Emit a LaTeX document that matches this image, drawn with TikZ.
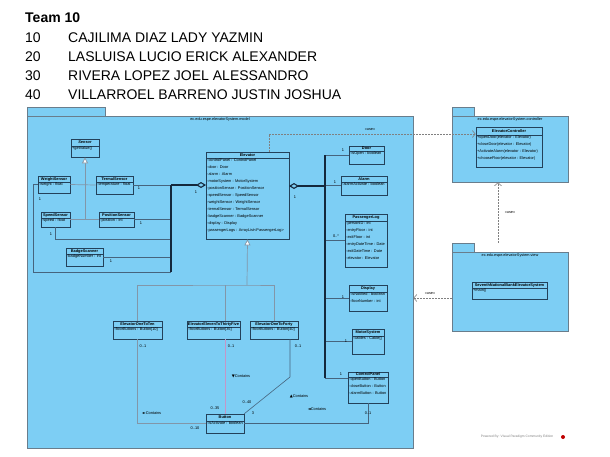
\documentclass[tikz,border=0pt]{standalone}
\usepackage{fontspec}
\setmainfont{Liberation Sans}
\newfontfamily\symfont{DejaVu Sans}
\usetikzlibrary{arrows.meta,fit,calc}

\definecolor{pkgfill}{RGB}{125,206,244}
\definecolor{pkgline}{RGB}{105,125,140}
\definecolor{clsline}{RGB}{35,65,90}
\definecolor{genline}{RGB}{130,150,168}
\definecolor{assocline}{RGB}{70,100,125}
\definecolor{pinkline}{RGB}{196,150,200}
\definecolor{darkline}{RGB}{20,40,60}

\newcommand\clsfont{\fontsize{3.9}{7}\selectfont}
\newcommand\pkgfont{\fontsize{3.8}{5}\selectfont}

\tikzset{
  pkg/.style={draw=pkgline, fill=pkgfill, line width=0.8pt, inner sep=0pt},
  cls/.style={draw=clsline, fill=pkgfill, line width=0.7pt, inner sep=0pt},
  clstitle/.style={font=\clsfont\bfseries, inner sep=0pt},
  clsattr/.style={font=\clsfont, align=left, inner xsep=1pt, inner ysep=0.8pt, anchor=north west},
  mult/.style={font=\clsfont, inner sep=0pt},
  team/.style={font=\fontsize{14}{16}\selectfont, anchor=base west, inner sep=0pt},
  bus/.style={draw=darkline, line width=1.1pt},
  assoc/.style={draw=assocline, line width=0.6pt},
  genl/.style={draw=genline, line width=0.7pt},
  gen/.style={genl, {Triangle[length=6pt,width=6pt,fill=white]}-},
  comp/.style={draw=darkline, line width=1.1pt, {Diamond[length=10pt,width=6pt,fill=pkgfill]}-},
  dep/.style={draw=gray, line width=0.6pt, dash pattern=on 1.5pt off 1.5pt, -{Straight Barb[length=3pt,width=7pt]}},
  stereo/.style={font=\pkgfont, inner sep=0pt},
}

\newcommand\umlclass[8]{%
  \node[cls, fit={(#2,#3) (#4,#5)}] (#1) {};
  \draw[clsline, line width=0.7pt] (#2,#6) -- (#4,#6);
  \node[clstitle] (#1-t) at ($(#2,#3)!0.5!(#4,#6)$) {#7};
  \node[clsattr] (#1-a) at (#2,#6) {#8};
}

\newcommand\umlpkg[7]{%
  \node[pkg, fit={(#2,#3) (#6,#3+9)}] (#1-tab) {};
  \node[pkg, fit={(#2,#3+9) (#4,#5)}] (#1) {};
  \node[font=\pkgfont, inner sep=0pt] (#1-name) at ($(#1.north)+(0,4)$) {#7};
}

\begin{document}
\begin{tikzpicture}[x=1pt,y=-1pt]
  \useasboundingbox (0,0) rectangle (610,456);

  \node[team, font=\fontsize{14}{16}\selectfont\bfseries] (team) at (25,22) {Team 10};
  \node[team] (n1) at (25,42) {10};
  \node[team] (m1) at (68,42) {CAJILIMA DIAZ LADY YAZMIN};
  \node[team] (n2) at (25,61) {20};
  \node[team] (m2) at (68,61) {LASLUISA LUCIO ERICK ALEXANDER};
  \node[team] (n3) at (25,80) {30};
  \node[team] (m3) at (68,80) {RIVERA LOPEZ JOEL ALESSANDRO};
  \node[team] (n4) at (25,99) {40};
  \node[team] (m4) at (68,99) {VILLARROEL BARRENO JUSTIN JOSHUA};

  \umlpkg{modelpkg}{27}{107}{413}{448}{105}{ec.edu.espe.elevatorSystem.model}
  \umlpkg{ctrlpkg}{452}{107}{568}{182}{474}{ec.edu.espe.elevatorSystem.controller}
  \umlpkg{viewpkg}{452}{243}{568}{331}{474}{ec.edu.espe.elevatorSystem.view}

  \umlclass{sensor}{71}{139}{99}{157}{146}{\itshape Sensor}{+getValue()}
  \umlclass{weight}{38}{176}{70}{193}{182}{WeightSensor}{-weight : float}
  \umlclass{termal}{96}{176}{133}{194}{182}{TermalSensor}{-temperature : float}
  \umlclass{speed}{41}{212}{70}{227}{218}{SpeedSensor}{-speed : float}
  \umlclass{position}{99}{212}{134}{227}{218}{PositionSensor}{-position : int}
  \umlclass{badge}{66}{248}{103}{266}{254}{BadgeScanner}{-badgeNumber : int}
  \umlclass{elevator}{206}{152}{289}{239}{158}{Elevator}{-controlPanel : ControlPanel\\-door : Door\\-alarm : Alarm\\-motorSystem : MotorSystem\\-positionSensor : PositionSensor\\-speedSensor : SpeedSensor\\-weightSensor : WeightSensor\\-termalSensor : TermalSensor\\-badgeScanner : BadgeScanner\\-display : Display\\-passengerLogs : ArrayList<PassengerLog>}
  \umlclass{door}{349}{146}{384}{164}{151}{Door}{-isOpen : boolean}
  \umlclass{alarm}{341}{176}{387}{195}{182}{Alarm}{-alarmActivate : boolean}
  \umlclass{plog}{345}{214}{387}{267}{221}{PassengerLog}{-personID : int\\-entryFloor : int\\-exitFloor : int\\-entryDateTime : Date\\-exitDateTime : Date\\-elevator : Elevator}
  \umlclass{display}{349}{285}{387}{311}{292}{Display}{-isNotified : boolean\\-floorNumber : int}
  \umlclass{motor}{352}{329}{384}{354}{336}{MotorSystem}{-cables : Cable[]}
  \umlclass{cpanel}{348}{372}{388}{403}{377}{ControlPanel}{-openButton : Button\\-closeButton : Button\\-alarmButton : Button}
  \umlclass{one10}{113}{321}{162}{339}{327}{ElevatorOneToTen}{-floorButtons : Button[10]}
  \umlclass{one35}{187}{321}{240}{339}{327}{ElevatorElevenToThirtyFive}{-floorButtons : Button[35]}
  \umlclass{one40}{250}{321}{298}{339}{327}{ElevatorOneToForty}{-floorButtons : Button[40]}
  \umlclass{button}{206}{414}{244}{433}{421}{Button}{-isActivate : boolean}
  \umlclass{ctrl}{476}{127}{542}{167}{135}{ElevatorController}{+openDoor(elevator : Elevator)\\+closeDoor(elevator : Elevator)\\+ActivateAlarm(elevator : Elevator)\\+chooseFloor(elevator : Elevator)}
  \umlclass{seventh}{472}{282}{547}{299}{288}{SeventhNationalBankElevatorSystem}{+main()}

  \coordinate (elevL) at (206,185);
  \coordinate (lbusT) at (171,185);
  \coordinate (lbusS) at (171,239);
  \coordinate (lbusB) at (171,272);
  \coordinate (elevR) at (289,186);
  \coordinate (rbusT) at (325,155);
  \coordinate (rbusB) at (325,378);
  \coordinate (genJ) at (247,285);
  \coordinate (c40) at (290,377);
  \coordinate (dep1) at (269,134);
  \coordinate (dep2) at (498,212);
  \coordinate (dep3) at (432,298);

  \draw[gen] (sensor.south) -- (sensor.south |- speed.east);
  \draw[genl] (weight.east) -- (termal.west);
  \draw[genl] (speed.east) -- (position.west);

  \draw[assoc] (termal.east) -- (termal.east -| lbusT);
  \draw[assoc] (position.east) -- (position.east -| lbusT);
  \draw[assoc] (badge.east) -- (badge.east -| lbusT);
  \draw[assoc] (speed.south) |- (lbusS);
  \draw[assoc] (weight.west) -- ++(-4,0) |- (lbusB);
  \draw[bus] (lbusT) -- (lbusB);
  \draw[comp] (elevL) -- (lbusT);

  \draw[assoc] (door.west) -- (door.west -| rbusT);
  \draw[assoc] (alarm.west) -- (alarm.west -| rbusT);
  \draw[assoc] (plog.west) -- (plog.west -| rbusT);
  \draw[assoc] (display.west) -- (display.west -| rbusT);
  \draw[assoc] (motor.west) -- (motor.west -| rbusT);
  \draw[assoc] (rbusB) -- (rbusB -| cpanel.west);
  \draw[bus] (rbusT) -- (rbusB);
  \draw[comp] (elevR) -- (elevR -| rbusT);

  \draw[gen] (elevator.south) -- (genJ);
  \draw[genl] (one10.north) |- (genJ) -| (one40.north);
  \draw[genl] (genJ -| button.north) -- (button.north |- one35.north);

  \draw[genl] (one10.south) |- (button.west);
  \draw[draw=pinkline, line width=0.6pt] (button.north |- one35.south) -- (button.north);
  \draw[assoc] (one40.south -| c40) -- (c40) -- (button.north east);
  \draw[assoc] (cpanel.south) |- (button.east);

  \draw[dep] (elevator.north -| dep1) |- (ctrl.west |- dep1);
  \draw[dep] (viewpkg-tab.north -| dep2) -- (ctrlpkg.south -| dep2);
  \draw[dep] (viewpkg.west |- dep3) -- (modelpkg.east |- dep3);
  \node[stereo] (use1) at (370,129) {«use»};
  \node[stereo] (use2) at (510,212) {«use»};
  \node[stereo] (use3) at (430,293) {«use»};

  \node[mult] (m-el) at (196,192) {1};
  \node[mult] (m-te) at (139,188) {1};
  \node[mult] (m-we) at (40,199) {1};
  \node[mult] (m-sp) at (51,234) {1};
  \node[mult] (m-po) at (141,223) {1};
  \node[mult] (m-ba) at (111,261) {1};
  \node[mult] (m-er) at (295,197) {1};
  \node[mult] (m-do) at (343,150) {1};
  \node[mult] (m-al) at (335,182) {1};
  \node[mult] (m-pl) at (336,236) {0..*};
  \node[mult] (m-di) at (343,297) {1};
  \node[mult] (m-mo) at (346,341) {1};
  \node[mult] (m-cp) at (341,374) {1};
  \node[mult] (m-o10) at (143,346) {0..1};
  \node[mult] (m-o35) at (231,346) {0..1};
  \node[mult] (m-o40) at (298,346) {0..1};
  \node[mult] (m-b10) at (195,428) {0..10};
  \node[mult] (m-b35) at (215,408) {0..35};
  \node[mult] (m-b40) at (247,402) {0..40};
  \node[mult] (m-bcp) at (253,413) {3};
  \node[mult] (m-cpb) at (368,413) {0..1};
  \node[mult] (k1) at (152,413) {{\symfont ►}Contains};
  \node[mult] (k2) at (241,376) {{\symfont ▼}Contains};
  \node[mult] (k3) at (299,396) {{\symfont ▲}Contains};
  \node[mult] (k4) at (317,409) {{\symfont ◄}Contains};

  \node[font=\fontsize{3.3}{4}\selectfont, text=gray, inner sep=0pt] (pw) at (517,437) {Powered By: Visual Paradigm Community Edition};
  \node[circle, fill=red!75!black, inner sep=0pt, minimum size=4pt] (pwlogo) at (563,437) {};
\end{tikzpicture}
\end{document}
